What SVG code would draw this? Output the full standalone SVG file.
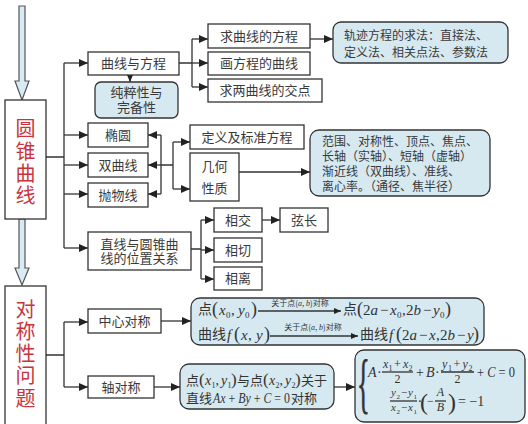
<svg xmlns="http://www.w3.org/2000/svg" width="528" height="424" viewBox="0 0 528 424">
<style>
.box{fill:#fff;stroke:#333;stroke-width:1.3}
.rb{fill:#d6e9f1;stroke:#333;stroke-width:1.3}
.t{font-family:"Noto Sans CJK SC",sans-serif;font-size:13px;fill:#3a3a3a;text-anchor:middle}
.tl{font-family:"Noto Sans CJK SC",sans-serif;font-size:12px;fill:#3a3a3a}
.red{font-family:"Noto Sans CJK SC",sans-serif;font-size:20px;fill:#c8343e;text-anchor:middle}
.c{stroke:#333;stroke-width:1.3;fill:none}
.a{marker-end:url(#ah)}
.m{font-family:"Liberation Serif",serif;fill:#333}
.cj{font-family:"Noto Sans CJK SC",sans-serif;fill:#333}
.i{font-style:italic}
.hol{fill:#d8eaf4;stroke:#555;stroke-width:1.2}
</style>
<defs>
<marker id="ah" markerUnits="userSpaceOnUse" markerWidth="9" markerHeight="8" refX="9" refY="4" orient="auto"><path d="M0,0 L9,4 L0,8 z" fill="#222"/></marker>
<marker id="ahs" markerUnits="userSpaceOnUse" markerWidth="7" markerHeight="6" refX="7" refY="3" orient="auto"><path d="M0,0 L7,3 L0,6 z" fill="#222"/></marker>
</defs>
<rect width="528" height="424" fill="#fff"/>

<!-- hollow arrows -->
<polygon class="hol" points="19,6 25,6 25,81 29,81 22,100 15,81 19,81"/>
<polygon class="hol" points="19,219 25,219 25,268 29,268 22,285 15,268 19,268"/>

<g id="conn">
<path class="c" d="M46,157 H64 M64,63 V248"/>
<path class="c a" d="M64,63 H88"/>
<path class="c a" d="M64,135 H88"/>
<path class="c a" d="M64,165 H88"/>
<path class="c a" d="M64,194 H88"/>
<path class="c a" d="M64,248 H88"/>
<path class="c" d="M130,75 V82" marker-end="url(#ahs)"/>
<path class="c" d="M179,63 H192 M192,39 V87"/>
<path class="c a" d="M192,39 H208"/>
<path class="c a" d="M192,63 H208"/>
<path class="c a" d="M192,87 H208"/>
<path class="c a" d="M310,39 H333"/>
<path class="c" d="M161,135 V194 M161,165 H173 M173,142 V189"/>
<path class="c a" d="M161,135 H148"/>
<path class="c a" d="M161,165 H148"/>
<path class="c a" d="M161,194 H148"/>
<path class="c a" d="M173,142 H190"/>
<path class="c a" d="M173,189 H190"/>
<path class="c a" d="M239,172 H310"/>
<path class="c" d="M191,249 H201 M201,220 V279"/>
<path class="c a" d="M201,220 H214"/>
<path class="c a" d="M201,250 H214"/>
<path class="c a" d="M201,279 H214"/>
<path class="c a" d="M262,220 H280"/>
<path class="c" d="M46,355 H64 M64,322 V387"/>
<path class="c a" d="M64,322 H88"/>
<path class="c a" d="M64,387 H88"/>
<path class="c a" d="M161,321 H191"/>
<path class="c a" d="M154,387 H180"/>
<path class="c a" d="M334,387 H355"/>
</g>

<g id="n-yzqx"><rect class="box" x="5" y="100" width="41" height="119"/>
<text class="red" x="25.5" y="136">圆</text><text class="red" x="25.5" y="159">锥</text><text class="red" x="25.5" y="181">曲</text><text class="red" x="25.5" y="203">线</text></g>
<g id="n-dcx"><rect class="box" x="5" y="286" width="41" height="145"/>
<text class="red" x="25.5" y="317">对</text><text class="red" x="25.5" y="339">称</text><text class="red" x="25.5" y="361">性</text><text class="red" x="25.5" y="383">问</text><text class="red" x="25.5" y="406">题</text></g>

<g id="n-qxyfc"><rect class="box" x="88" y="52" width="91" height="23"/><text class="t" x="133.5" y="68">曲线与方程</text></g>
<g id="n-cc"><rect class="rb" x="95" y="82" width="83" height="36" rx="6"/><text class="t" x="136.5" y="97">纯粹性与</text><text class="t" x="136.5" y="112">完备性</text></g>
<g id="n-ty"><rect class="box" x="88" y="123" width="60" height="24"/><text class="t" x="118" y="140">椭圆</text></g>
<g id="n-sqx"><rect class="box" x="88" y="153" width="60" height="24"/><text class="t" x="118" y="170">双曲线</text></g>
<g id="n-pwx"><rect class="box" x="88" y="183" width="60" height="24"/><text class="t" x="118" y="200">抛物线</text></g>
<g id="n-zx"><rect class="box" x="88" y="232" width="103" height="38"/><text class="t" x="139.5" y="249">直线与圆锥曲</text><text class="t" x="139.5" y="263">线的位置关系</text></g>

<g id="n-qqxfc"><rect class="box" x="208" y="24" width="102" height="24"/><text class="t" x="259" y="41">求曲线的方程</text></g>
<g id="n-hfc"><rect class="box" x="208" y="52" width="102" height="23"/><text class="t" x="259" y="68">画方程的曲线</text></g>
<g id="n-jd"><rect class="box" x="208" y="79" width="114" height="23"/><text class="t" x="265" y="95">求两曲线的交点</text></g>
<g id="n-gj"><rect class="rb" x="333" y="22" width="175" height="41" rx="8"/><text class="tl" x="344" y="39.5">轨迹方程的求法：直接法、</text><text class="tl" x="344" y="56.5">定义法、相关点法、参数法</text></g>

<g id="n-dy"><rect class="box" x="190" y="125" width="114" height="24"/><text class="t" x="247" y="142">定义及标准方程</text></g>
<g id="n-jh"><rect class="box" x="190" y="153" width="49" height="48"/><text class="t" x="214.5" y="171">几何</text><text class="t" x="214.5" y="193">性质</text></g>
<g id="n-fw"><rect class="rb" x="310" y="130" width="180" height="66" rx="9"/>
<text class="tl" x="322" y="146">范围、对称性、顶点、焦点、</text>
<text class="tl" x="322" y="161">长轴（实轴）、短轴（虚轴）</text>
<text class="tl" x="322" y="176">渐近线（双曲线）、准线、</text>
<text class="tl" x="322" y="191">离心率。（通径、焦半径）</text></g>

<g id="n-xj"><rect class="box" x="214" y="208" width="48" height="24"/><text class="t" x="238" y="225">相交</text></g>
<g id="n-xc"><rect class="box" x="280" y="208" width="48" height="24"/><text class="t" x="304" y="225">弦长</text></g>
<g id="n-xq"><rect class="box" x="214" y="238" width="48" height="24"/><text class="t" x="238" y="255">相切</text></g>
<g id="n-xl"><rect class="box" x="214" y="267" width="48" height="23"/><text class="t" x="238" y="283">相离</text></g>

<g id="n-zxdc"><rect class="box" x="88" y="309" width="73" height="24"/><text class="t" x="124.5" y="326">中心对称</text></g>
<g id="n-zdc"><rect class="box" x="88" y="376" width="66" height="22"/><text class="t" x="121" y="392">轴对称</text></g>

<g id="n-center-f"><rect class="rb" x="191" y="298" width="293" height="47" rx="9"/>
<text class="cj" x="198" y="314" font-size="14">点</text>
<text class="m" y="315" font-size="15"><tspan x="212" font-size="18">(</tspan><tspan x="219" class="i">x</tspan><tspan x="226" y="318" font-size="9">0</tspan><tspan x="231" y="315">,</tspan><tspan x="238" class="i">y</tspan><tspan x="245" y="318" font-size="9">0</tspan><tspan x="251" y="315" font-size="18">)</tspan></text>
<path class="c" d="M258,311 H341" stroke-width="1" marker-end="url(#ahs)"/>
<text class="cj" x="300" y="306" font-size="8" text-anchor="middle">关于点(<tspan class="i" font-family="Liberation Serif">a</tspan>, <tspan class="i" font-family="Liberation Serif">b</tspan>)对称</text>
<text class="cj" x="343" y="314" font-size="14">点</text>
<text class="m" y="315" font-size="15"><tspan x="357" font-size="18">(</tspan><tspan x="363">2</tspan><tspan x="370.5" class="i">a</tspan><tspan x="380">−</tspan><tspan x="390" class="i">x</tspan><tspan x="397" y="318" font-size="9">0</tspan><tspan x="402" y="315">,</tspan><tspan x="406">2</tspan><tspan x="413.5" class="i">b</tspan><tspan x="423">−</tspan><tspan x="433" class="i">y</tspan><tspan x="440" y="318" font-size="9">0</tspan><tspan x="445" y="315" font-size="18">)</tspan></text>
<text class="cj" x="198" y="339" font-size="14">曲线</text>
<text class="m" y="340" font-size="15"><tspan x="227" class="i">f</tspan><tspan x="234" font-size="18">(</tspan><tspan x="241" class="i">x</tspan><tspan x="248">,</tspan><tspan x="256" class="i">y</tspan><tspan x="264" font-size="18">)</tspan></text>
<path class="c" d="M270,336 H358" stroke-width="1" marker-end="url(#ahs)"/>
<text class="cj" x="313" y="330" font-size="8" text-anchor="middle">关于点(<tspan class="i" font-family="Liberation Serif">a</tspan>, <tspan class="i" font-family="Liberation Serif">b</tspan>)对称</text>
<text class="cj" x="360" y="339" font-size="14">曲线</text>
<text class="m" y="340" font-size="15"><tspan x="389" class="i">f</tspan><tspan x="396" font-size="18">(</tspan><tspan x="402">2</tspan><tspan x="409.5" class="i">a</tspan><tspan x="419">−</tspan><tspan x="429" class="i">x</tspan><tspan x="436">,</tspan><tspan x="440">2</tspan><tspan x="447.5" class="i">b</tspan><tspan x="457">−</tspan><tspan x="467" class="i">y</tspan><tspan x="473" font-size="18">)</tspan></text>
</g>

<g id="n-axis-f"><rect class="rb" x="180" y="364" width="154" height="45" rx="9"/>
<text class="cj" x="186" y="385" font-size="13">点</text>
<text class="m" y="385" font-size="14"><tspan x="199" font-size="17">(</tspan><tspan x="205" class="i">x</tspan><tspan x="211.5" y="388" font-size="8">1</tspan><tspan x="215.5" y="385">,</tspan><tspan x="221" class="i">y</tspan><tspan x="227.5" y="388" font-size="8">1</tspan><tspan x="231" y="385" font-size="17">)</tspan></text>
<text class="cj" x="237" y="385" font-size="13">与点</text>
<text class="m" y="385" font-size="14"><tspan x="263" font-size="17">(</tspan><tspan x="269" class="i">x</tspan><tspan x="275.5" y="388" font-size="8">2</tspan><tspan x="279.5" y="385">,</tspan><tspan x="285" class="i">y</tspan><tspan x="291.5" y="388" font-size="8">2</tspan><tspan x="295" y="385" font-size="17">)</tspan></text>
<text class="cj" x="301" y="385" font-size="13">关于</text>
<text class="cj" x="186" y="403" font-size="13">直线</text>
<text class="m" x="213" y="403" font-size="14" textLength="77" lengthAdjust="spacingAndGlyphs"><tspan class="i">A</tspan><tspan class="i">x</tspan> + <tspan class="i">B</tspan><tspan class="i">y</tspan> + <tspan class="i">C</tspan> = 0</text>
<text class="cj" x="291" y="403" font-size="13">对称</text>
</g>

<g id="n-brace-f"><rect class="rb" x="355" y="350" width="170" height="72" rx="9"/>
<text class="m" font-size="66" stroke="#333" stroke-width="0.8" transform="translate(357,405) scale(0.4,1)">{</text>
<text class="m" font-size="14" y="377"><tspan x="368" class="i">A</tspan><tspan x="377">·</tspan></text>
<text class="m" font-size="12" y="368"><tspan x="383" class="i">x</tspan><tspan x="388.5" y="371" font-size="8">1</tspan><tspan x="394" y="368">+</tspan><tspan x="403" class="i">x</tspan><tspan x="408.5" y="371" font-size="8">2</tspan></text>
<line class="c" x1="382" y1="372" x2="413" y2="372" stroke-width="1"/>
<text class="m" font-size="12" x="397.5" y="383" text-anchor="middle">2</text>
<text class="m" font-size="14" y="377"><tspan x="416">+</tspan><tspan x="426" class="i">B</tspan><tspan x="435">·</tspan></text>
<text class="m" font-size="12" y="368"><tspan x="442" class="i">y</tspan><tspan x="448" y="371" font-size="8">1</tspan><tspan x="453.5" y="368">+</tspan><tspan x="462.5" class="i">y</tspan><tspan x="468.5" y="371" font-size="8">2</tspan></text>
<line class="c" x1="441" y1="372" x2="474" y2="372" stroke-width="1"/>
<text class="m" font-size="12" x="457.5" y="383" text-anchor="middle">2</text>
<text class="m" font-size="14" x="477" y="377" textLength="38" lengthAdjust="spacingAndGlyphs">+ <tspan class="i">C</tspan> = 0</text>
<text class="m" font-size="11" y="396"><tspan x="391" class="i">y</tspan><tspan x="396.5" y="399" font-size="7">2</tspan><tspan x="401" y="396">−</tspan><tspan x="408" class="i">y</tspan><tspan x="413.5" y="399" font-size="7">1</tspan></text>
<line class="c" x1="390" y1="401" x2="417" y2="401" stroke-width="1"/>
<text class="m" font-size="11" y="411"><tspan x="391" class="i">x</tspan><tspan x="396.5" y="414" font-size="7">2</tspan><tspan x="401" y="411">−</tspan><tspan x="408" class="i">x</tspan><tspan x="413.5" y="414" font-size="7">1</tspan></text>
<text class="m" font-size="14" x="417.5" y="406">·</text>
<text class="m" font-size="24" x="420" y="410">(</text>
<text class="m" font-size="12" x="427" y="405">−</text>
<text class="m i" font-size="12" x="440.5" y="396" text-anchor="middle">A</text>
<line class="c" x1="435" y1="401" x2="446" y2="401" stroke-width="1"/>
<text class="m i" font-size="12" x="440.5" y="411" text-anchor="middle">B</text>
<text class="m" font-size="24" x="448" y="410">)</text>
<text class="m" font-size="14" x="458" y="406">= −1</text>
</g>
</svg>
